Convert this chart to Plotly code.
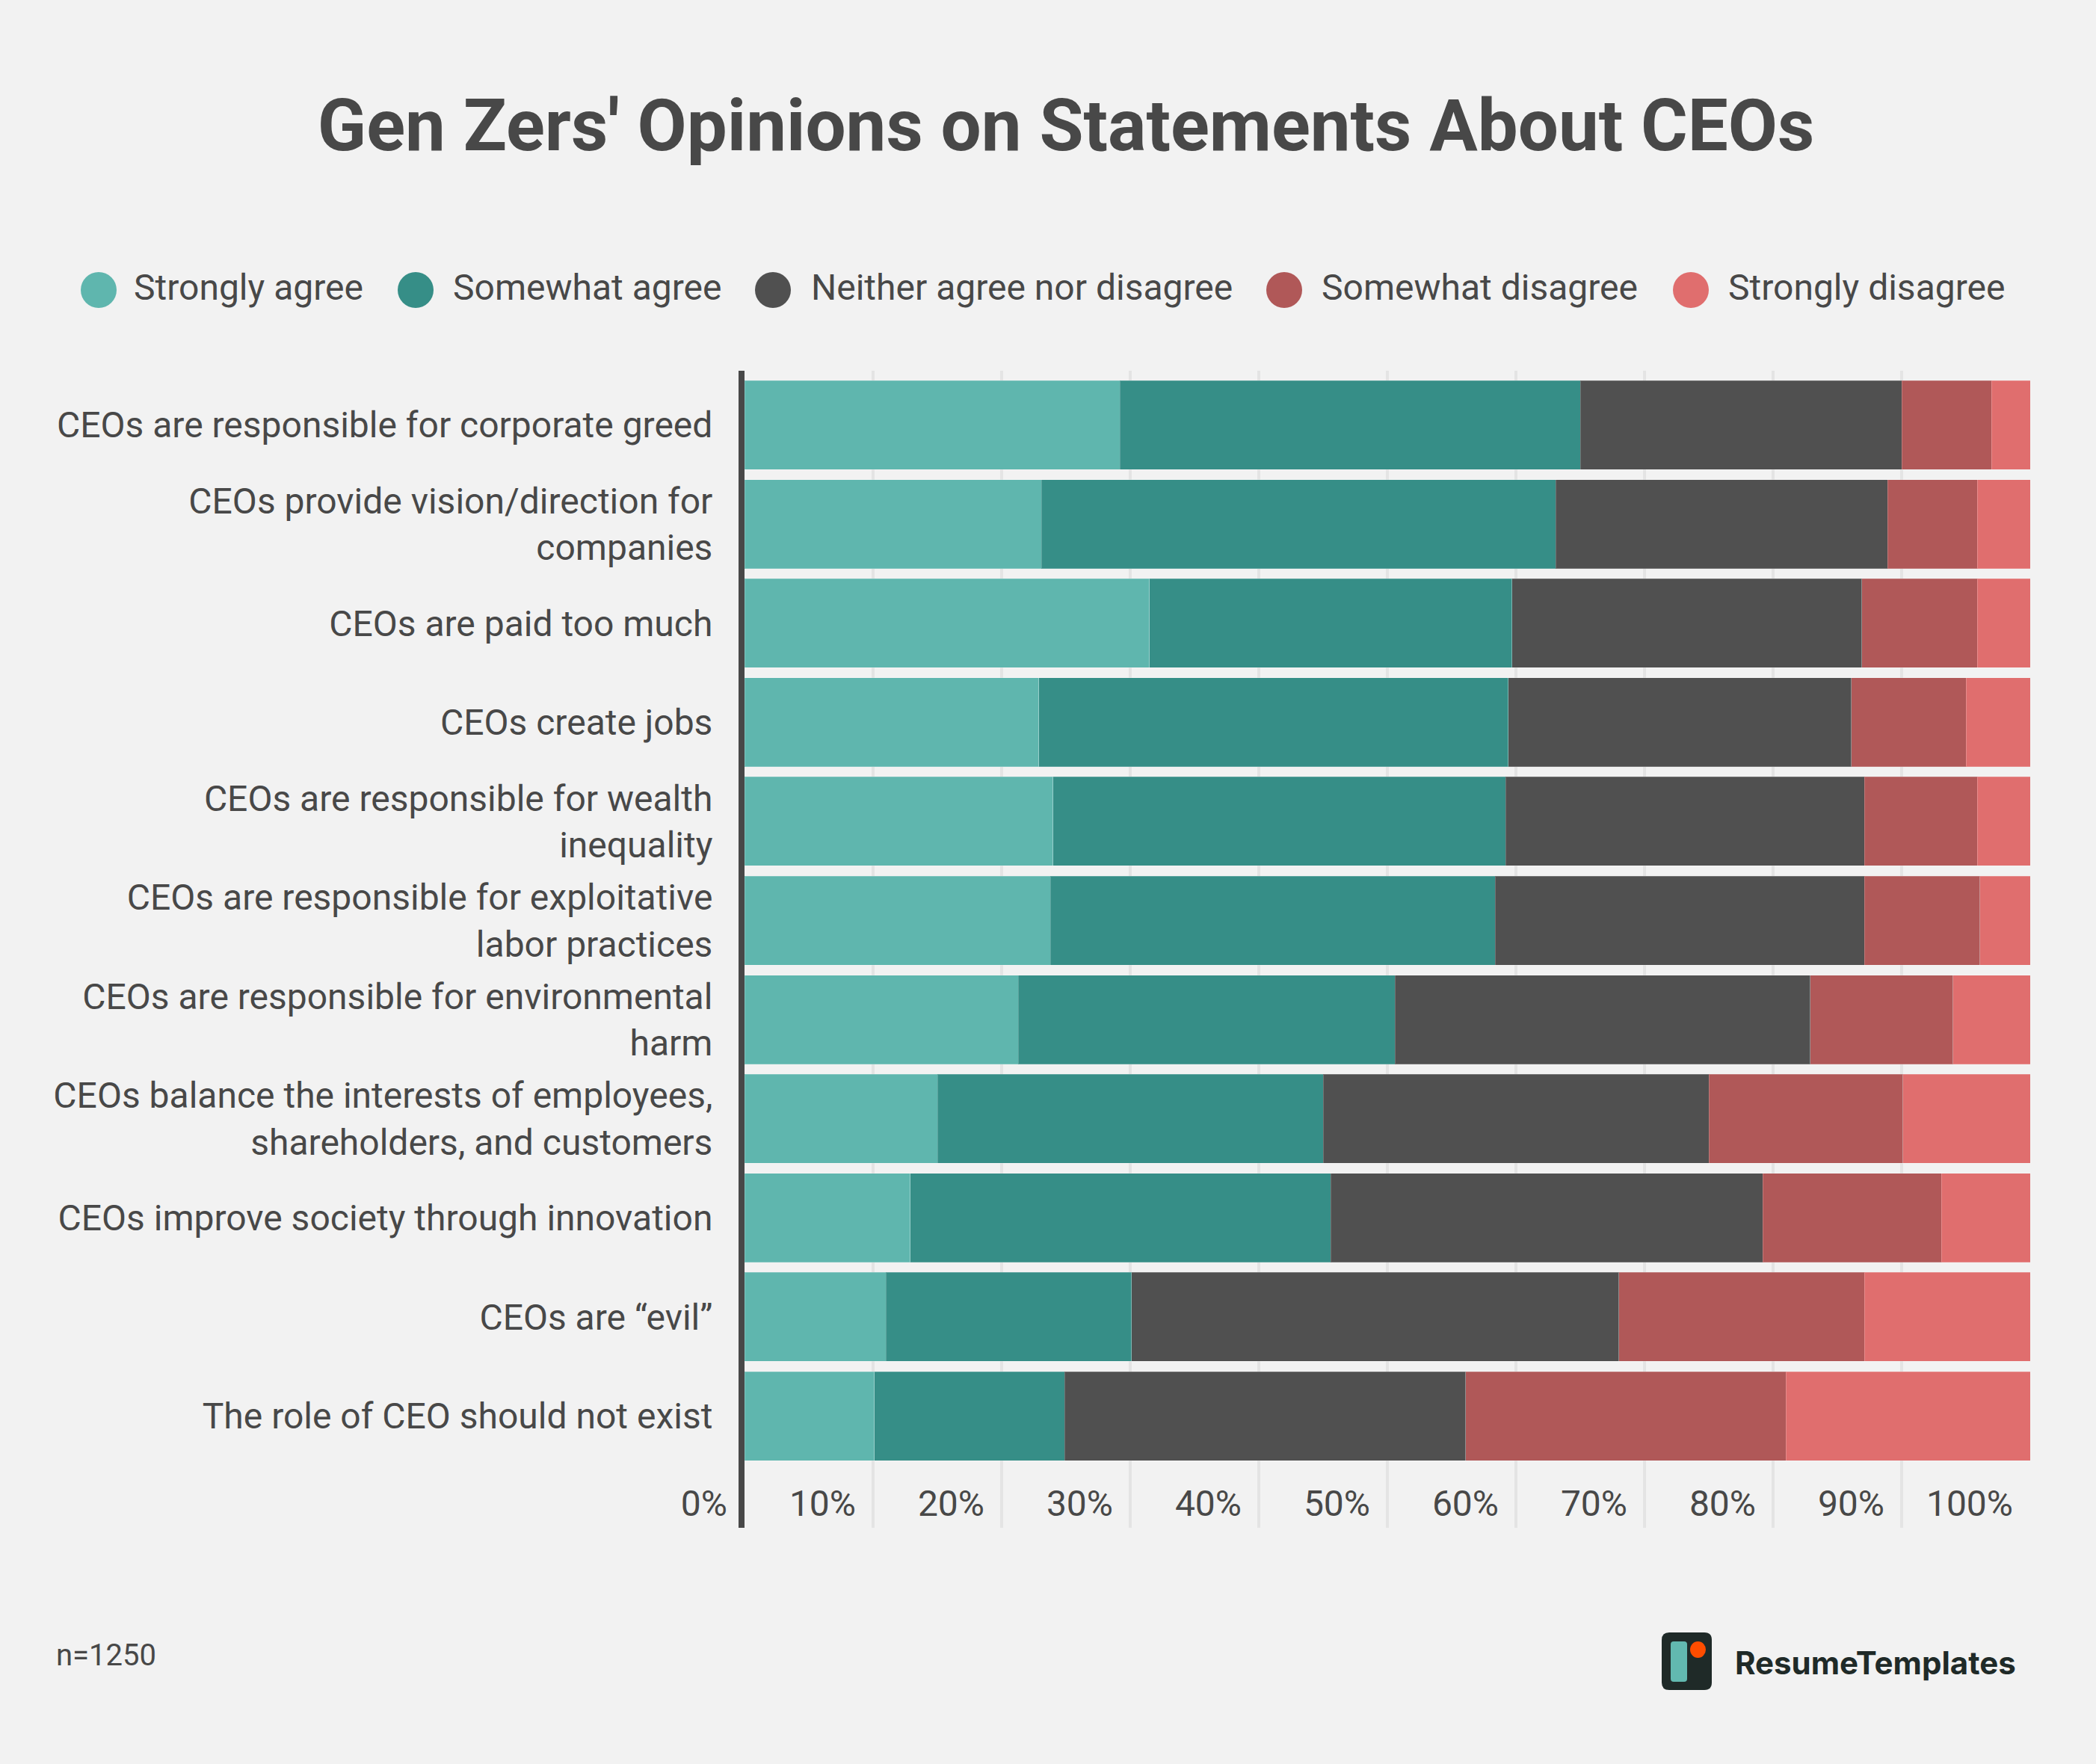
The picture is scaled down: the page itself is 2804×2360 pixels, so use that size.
# -*- coding: utf-8 -*-
import plotly.graph_objects as go

WIDTH = 2804
HEIGHT = 2360
LEFT, RIGHT, TOP, BOTTOM = 996, 88, 496, 316

categories = [
    "CEOs are responsible for corporate greed",
    "CEOs provide vision/direction for<br>companies",
    "CEOs are paid too much",
    "CEOs create jobs",
    "CEOs are responsible for wealth<br>inequality",
    "CEOs are responsible for exploitative<br>labor practices",
    "CEOs are responsible for environmental<br>harm",
    "CEOs balance the interests of employees,<br>shareholders, and customers",
    "CEOs improve society through innovation",
    "CEOs are “evil”",
    "The role of CEO should not exist",
]

strongly_agree = [29.2, 23.1, 31.5, 22.9, 24.0, 23.8, 21.3, 15.0, 12.9, 11.0, 10.1]
somewhat_agree = [35.8, 40.0, 28.2, 36.5, 35.2, 34.6, 29.3, 30.0, 32.7, 19.1, 14.8]
neither = [25.0, 25.8, 27.2, 26.7, 27.9, 28.7, 32.3, 30.0, 33.6, 37.9, 31.2]
somewhat_disagree = [7.0, 7.0, 9.0, 8.9, 8.8, 9.0, 11.1, 15.1, 13.9, 19.1, 24.9]
strongly_disagree = [3.0, 4.1, 4.1, 5.0, 4.1, 3.9, 6.0, 9.9, 6.9, 12.9, 19.0]

series_names = ["Strongly agree", "Somewhat agree", "Neither agree nor disagree",
                "Somewhat disagree", "Strongly disagree"]
series_values = [strongly_agree, somewhat_agree, neither, somewhat_disagree, strongly_disagree]
series_colors = ["#5FB6AE", "#368E87", "#505050", "#B05858", "#E06E6E"]

x_ticks = [0, 10, 20, 30, 40, 50, 60, 70, 80, 90, 100]
x_tick_labels = ["0%", "10%", "20%", "30%", "40%", "50%", "60%", "70%", "80%", "90%", "100%"]

TEXT = "#484848"
FONT = "Roboto"


# pixel position on the page -> paper coordinates
def px(x):
    return (x - LEFT) / (WIDTH - LEFT - RIGHT)


def py(y):
    return 1 - (y - TOP) / (HEIGHT - TOP - BOTTOM)


def rounded_rect(x0, y0, x1, y1, r):
    return (f"M {px(x0 + r)} {py(y0)} L {px(x1 - r)} {py(y0)} Q {px(x1)} {py(y0)} {px(x1)} {py(y0 + r)} "
            f"L {px(x1)} {py(y1 - r)} Q {px(x1)} {py(y1)} {px(x1 - r)} {py(y1)} "
            f"L {px(x0 + r)} {py(y1)} Q {px(x0)} {py(y1)} {px(x0)} {py(y1 - r)} "
            f"L {px(x0)} {py(y0 + r)} Q {px(x0)} {py(y0)} {px(x0 + r)} {py(y0)} Z")


fig = go.Figure()

for name, values, color in zip(series_names, series_values, series_colors):
    fig.add_trace(go.Bar(
        y=categories,
        x=values,
        name=name,
        orientation="h",
        marker=dict(color=color, line=dict(color="rgba(255,255,255,0.2)", width=1)),
        showlegend=False,
    ))

fig.update_layout(
    width=WIDTH,
    height=HEIGHT,
    barmode="stack",
    bargap=0.1026,
    paper_bgcolor="#F2F2F2",
    plot_bgcolor="#F2F2F2",
    margin=dict(l=LEFT, r=RIGHT, t=TOP, b=BOTTOM, autoexpand=False),
    font=dict(family=FONT, size=48, color=TEXT),
    title=dict(
        text="<b>Gen Zers' Opinions on Statements About CEOs</b>",
        font=dict(family=FONT, size=96, color=TEXT),
        x=1426 / WIDTH, xanchor="center",
        y=1 - 167 / HEIGHT, yanchor="middle",
    ),
)

fig.update_xaxes(
    range=[0, 100],
    tickmode="array",
    tickvals=x_ticks,
    ticktext=x_tick_labels,
    showgrid=True,
    gridcolor="#E4E4E4",
    gridwidth=4,
    zeroline=False,
    showline=False,
    ticklabelposition="inside left",
    ticklabeloverflow="allow",
    ticklabelshift=-23,
    ticklen=0,
    tickfont=dict(family=FONT, size=48, color=TEXT),
)

fig.update_yaxes(
    type="category",
    range=[11.127, -0.547],
    showgrid=False,
    zeroline=False,
    showline=True,
    linecolor=TEXT,
    linewidth=8,
    ticks="outside",
    ticklen=25,
    tickcolor="rgba(0,0,0,0)",
    tickfont=dict(family=FONT, size=48, color=TEXT),
)

# legend with big round swatches
legend_circles = [132, 556, 1034, 1718, 2262]
legend_labels = [177, 604, 1083, 1766, 2310]
for name, color, cx, tx in zip(series_names, series_colors, legend_circles, legend_labels):
    fig.add_shape(type="circle", xref="paper", yref="paper",
                  x0=px(cx - 24), x1=px(cx + 24), y0=py(412), y1=py(364),
                  fillcolor=color, line_width=0)
    fig.add_annotation(text=name, xref="paper", yref="paper", x=px(tx), y=py(384),
                       xanchor="left", yanchor="middle", showarrow=False,
                       font=dict(family=FONT, size=48, color=TEXT))

fig.add_annotation(text="n=1250", xref="paper", yref="paper", x=px(73), y=py(2214),
                   xanchor="left", yanchor="middle", showarrow=False,
                   font=dict(family=FONT, size=40, color=TEXT))

# logo
fig.add_shape(type="path", xref="paper", yref="paper", path=rounded_rect(2223, 2184, 2290, 2261, 10),
              fillcolor="#1F2A28", line_width=0)
fig.add_shape(type="path", xref="paper", yref="paper", path=rounded_rect(2235, 2196, 2257, 2250, 4),
              fillcolor="#62B9B0", line_width=0)
fig.add_shape(type="circle", xref="paper", yref="paper",
              x0=px(2261), x1=px(2282), y0=py(2218), y1=py(2196),
              fillcolor="#FF4D00", line_width=0)
fig.add_annotation(text="<b>ResumeTemplates</b>", xref="paper", yref="paper", x=px(2319), y=py(2224),
                   xanchor="left", yanchor="middle", showarrow=False,
                   font=dict(family="Inter", size=42, color="#1F2A28"))

# the page's default body margin would shift everything by 8px
fig.write_html("out.html", config={"displayModeBar": False},
               post_script="document.body.style.margin='0';")
